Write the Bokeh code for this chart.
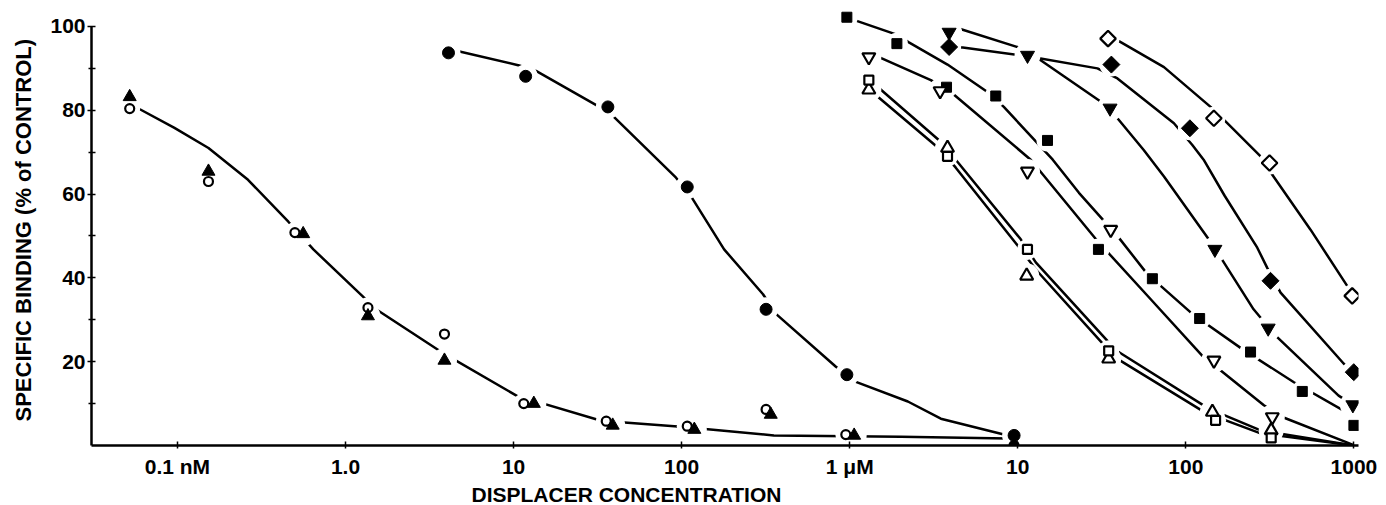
import math
from bokeh.plotting import figure
from bokeh.models import FixedTicker, CustomJSTickFormatter, Range1d, Title
from bokeh.embed import file_html
from bokeh.resources import INLINE

# ---------------- data (x in nM, y in % of control) ----------------
# open circles
oc_x = [0.052, 0.153, 0.50, 1.36, 3.88, 11.5, 35.6, 108, 318, 948, 9500]
oc_y = [80.4, 63.0, 50.8, 32.9, 26.6, 10.0, 5.8, 4.6, 8.6, 2.6, 0.0]
# filled triangles
ft_x = [0.052, 0.153, 0.56, 1.36, 3.88, 13.2, 38.9, 119, 339, 1063, 9500]
ft_y = [83.2, 65.4, 50.5, 30.9, 20.3, 10.0, 4.8, 3.8, 7.4, 2.4, 0.0]
# fitted curve shared by open circles / filled triangles
ab_cx = [0.0594, 0.096, 0.153, 0.263, 0.457, 0.644, 1.28, 1.52, 3.72, 10.4, 33.2, 99.1, 354, 2014, 8730]
ab_cy = [80.3, 75.8, 71.0, 63.4, 53.4, 46.8, 35.4, 32.5, 22.3, 11.9, 5.9, 4.5, 2.4, 2.1, 1.7]

# filled circles
fc_x = [4.10, 11.8, 36.4, 108, 318, 962, 9510]
fc_y = [93.7, 88.1, 80.8, 61.7, 32.5, 16.9, 2.4]
fc_cx = [4.43, 10.8, 13.6, 31.8, 39.1, 92.6, 114, 179, 305, 364, 828, 1089, 2218, 3486, 8730]
fc_cy = [94.3, 90.7, 89.4, 81.0, 78.6, 63.9, 59.4, 46.8, 36.1, 31.4, 18.8, 15.2, 10.5, 6.4, 2.4]

# filled squares
fs_x = [962, 1909, 3768, 7396, 15030, 30200, 63240, 120800, 242700, 493000, 1000000]
fs_y = [102.2, 95.9, 85.5, 83.4, 72.8, 46.8, 39.8, 30.3, 22.3, 12.9, 4.8]
fs_cx = [962, 1089, 1884, 2250, 3819, 6637, 8260, 16150, 23120, 39360, 59050, 109300, 216900, 439500, 933000]
fs_cy = [102.2, 101.4, 98.1, 96.2, 90.9, 84.3, 80.8, 68.2, 60.3, 49.9, 40.9, 31.4, 23.0, 15.1, 7.6]

# open inverted triangles
ov_x = [1300, 3451, 11420, 35730, 146900, 326900]
ov_y = [92.7, 84.6, 65.4, 51.5, 20.3, 6.8]
ov_cx = [1300, 1493, 3040, 4093, 11940, 29790, 61800, 125400, 291300, 374800, 998000]
ov_cy = [92.7, 92.7, 87.2, 84.0, 68.2, 48.8, 34.9, 21.4, 9.6, 6.8, 0.1]

# open triangles
ta_x = [1300, 3819, 11300, 34750, 143900, 322000]
ta_y = [84.9, 71.0, 40.5, 20.7, 8.0, 3.6]
ta_cx = [1300, 1452, 3483, 4277, 10420, 12800, 34280, 40960, 131200, 278600, 995000]
ta_cy = [84.9, 83.4, 70.5, 66.3, 46.8, 42.0, 23.0, 20.2, 7.8, 2.9, 0.0]

# open squares
os_x = [1300, 3819, 11420, 34750, 150300, 322000]
os_y = [87.2, 69.0, 46.8, 22.6, 6.0, 1.8]
os_cx = [1300, 1493, 3483, 4277, 10420, 12800, 34280, 39850, 136800, 278600, 995000]
os_cy = [87.2, 85.3, 72.5, 68.2, 49.2, 43.7, 24.9, 22.3, 8.8, 3.6, 0.0]

# filled inverted triangles
it_x = [3905, 11430, 35400, 148900, 309000, 986000]
it_y = [98.6, 93.1, 80.5, 46.8, 28.0, 9.7]
it_cx = [3905, 4457, 11460, 13150, 30340, 39180, 56150, 74130, 136800, 161100, 253000, 342000, 810600, 986000]
it_cy = [98.6, 99.5, 94.3, 92.4, 82.4, 78.1, 70.5, 64.2, 49.2, 44.9, 32.5, 26.2, 11.9, 9.7]

# filled diamonds
fd_x = [3905, 36060, 105700, 319000, 998000]
fd_y = [95.1, 90.9, 75.7, 39.3, 17.5]
fd_cx = [3905, 4710, 11460, 29790, 39180, 84950, 109300, 127600, 170200, 266100, 305000, 366200, 871000, 998000]
fd_cy = [95.1, 95.0, 92.9, 90.0, 87.6, 76.9, 71.7, 68.2, 59.6, 47.2, 42.4, 36.5, 19.5, 17.5]

# open diamonds
od_x = [34440, 146800, 314800, 977000]
od_y = [97.1, 78.1, 67.4, 35.7]
od_cx = [34440, 40000, 74130, 140300, 164800, 278600, 326900, 552000, 912000, 977000]
od_cy = [97.1, 96.5, 90.3, 80.8, 78.1, 69.0, 64.6, 51.5, 38.1, 35.7]

# axis ticks
x_tick_vals = [0.1, 1, 10, 100, 1000, 10000, 100000, 1000000]
x_tick_labels = ["0.1 nM", "1.0", "10", "100", "1 \u03bcM", "10", "100", "1000"]
y_tick_vals = [20, 40, 60, 80, 100]
y_minor_vals = [10, 30, 50, 70, 90]

# ---------------- layout constants ----------------
FONT = "Liberation Sans"
X_START = 10 ** (-1 + (90 - 176) / 168.2)
X_END = 10 ** (-1 + (1358 - 176) / 168.2)

p = figure(width=1386, height=505, x_axis_type="log",
           x_range=Range1d(X_START, X_END), y_range=Range1d(0, 105),
           output_backend="svg", toolbar_location=None,
           min_border_left=90, min_border_right=28, min_border_top=5, min_border_bottom=58)
p.background_fill_color = "white"
p.border_fill_color = "white"
p.outline_line_color = None
p.xgrid.visible = False
p.ygrid.visible = False

LW = 2.5
curves = [(ab_cx, ab_cy), (fc_cx, fc_cy), (fs_cx, fs_cy), (ov_cx, ov_cy), (ta_cx, ta_cy),
          (os_cx, os_cy), (it_cx, it_cy), (fd_cx, fd_cy), (od_cx, od_cy)]
for cx, cy in curves:
    p.line(cx, cy, line_color="black", line_width=LW, line_join="round")

# (x, y, marker, size, filled, angle)
series = [
    (oc_x, oc_y, "circle", 9, False, 0),
    (ft_x, ft_y, "triangle", 13, True, 0),
    (fc_x, fc_y, "circle", 12, True, 0),
    (fs_x, fs_y, "square", 10, True, 0),
    (ov_x, ov_y, "inverted_triangle", 13, False, 0),
    (ta_x, ta_y, "triangle", 13, False, 0),
    (os_x, os_y, "square", 9, False, 0),
    (it_x, it_y, "inverted_triangle", 14, True, 0),
    (fd_x, fd_y, "square", 12, True, math.pi / 4),
    (od_x, od_y, "square", 11, False, math.pi / 4),
]
# white halos that break the lines around the symbols
for x, y, m, s, filled, ang in series:
    p.scatter(x, y, marker="circle", size=s + 12, fill_color="white", line_color=None)
for x, y, m, s, filled, ang in series:
    p.scatter(x, y, marker=m, size=s, angle=ang,
              fill_color="black" if filled else "white",
              line_color="black", line_width=1.0 if filled else 2.2)

# axes
xa = p.xaxis[0]
xa.ticker = FixedTicker(ticks=x_tick_vals, minor_ticks=[])
xa.formatter = CustomJSTickFormatter(args=dict(vals=x_tick_vals, labs=x_tick_labels), code="""
const lt = Math.log10(tick);
for (let i = 0; i < vals.length; i++) {
  if (Math.abs(lt - Math.log10(vals[i])) < 1e-6) { return labs[i]; }
}
return "";
""")
xa.axis_line_width = 2.5
xa.axis_line_color = "black"
xa.major_tick_in = 4
xa.major_tick_out = 3
xa.major_tick_line_width = 1.5
xa.major_label_standoff = 6
xa.major_label_text_font = FONT
xa.major_label_text_font_style = "bold"
xa.major_label_text_font_size = "21px"
xa.major_label_text_color = "black"

ya = p.yaxis[0]
ya.ticker = FixedTicker(ticks=y_tick_vals, minor_ticks=y_minor_vals)
ya.bounds = (0, 100)
ya.axis_line_width = 2.5
ya.axis_line_color = "black"
ya.major_tick_in = 4
ya.major_tick_out = 4
ya.minor_tick_in = 4
ya.minor_tick_out = 3
ya.major_tick_line_width = 1.5
ya.minor_tick_line_width = 1.5
ya.major_label_standoff = 2
ya.major_label_text_font = FONT
ya.major_label_text_font_style = "bold"
ya.major_label_text_font_size = "21px"
ya.major_label_text_color = "black"

p.add_layout(Title(text="SPECIFIC BINDING (% of CONTROL)", align="left", offset=24,
                   vertical_align="top", standoff=20,
                   text_font=FONT, text_font_style="bold", text_font_size="22px",
                   text_color="black"), "left")
p.add_layout(Title(text="DISPLACER CONCENTRATION", align="left", offset=380, standoff=0,
                   text_font=FONT, text_font_style="bold", text_font_size="21px",
                   text_color="black"), "below")

open("out.html", "w").write(file_html(p, INLINE))
